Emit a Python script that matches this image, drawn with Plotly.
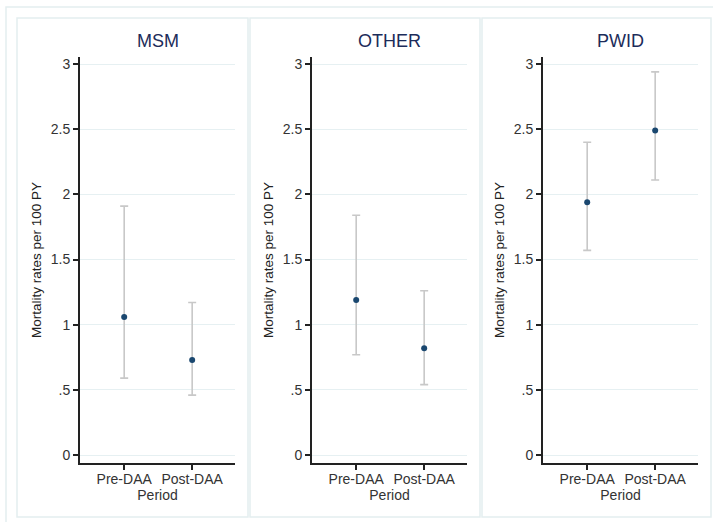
import plotly.graph_objects as go

W, H = 713, 522

groups = ["MSM", "OTHER", "PWID"]
periods = ["Pre-DAA", "Post-DAA"]
rate = {"MSM": [1.06, 0.73], "OTHER": [1.19, 0.82], "PWID": [1.94, 2.49]}
lower = {"MSM": [0.59, 0.46], "OTHER": [0.77, 0.54], "PWID": [1.57, 2.11]}
upper = {"MSM": [1.91, 1.17], "OTHER": [1.84, 1.26], "PWID": [2.40, 2.94]}
yticks = [0, 0.5, 1, 1.5, 2, 2.5, 3]
yticklabels = ["0", ".5", "1", "1.5", "2", "2.5", "3"]

# pixel layout (x-axis left/right, panel box left/right)
axis_px = [(80, 235), (312, 467), (543, 698)]
box_px = [(17, 248), (250, 480), (482, 711)]
ax_top, ax_bot = 57, 463

fig = go.Figure()
font = "Liberation Sans, Arial, sans-serif"

for i, g in enumerate(groups):
    n = "" if i == 0 else str(i + 1)
    xa, ya = "x" + n, "y" + n
    fig.add_trace(go.Scatter(
        x=periods, y=upper[g], mode="markers",
        marker=dict(size=1, color="rgba(0,0,0,0)"),
        error_y=dict(type="data", symmetric=False,
                     array=[0] * 2, arrayminus=[u - l for u, l in zip(upper[g], lower[g])],
                     color="#c8c8c8", thickness=1.6, width=4),
        xaxis=xa, yaxis=ya, showlegend=False, hoverinfo="skip"))
    fig.add_trace(go.Scatter(
        x=periods, y=rate[g], mode="markers",
        marker=dict(size=6, color="#1a476f"),
        xaxis=xa, yaxis=ya, showlegend=False))
    x0, x1 = axis_px[i]
    fig.layout["xaxis" + n] = dict(
        domain=[x0 / W, x1 / W], anchor=ya, range=[-0.65, 1.63],
        showline=True, linecolor="#222", linewidth=2, ticks="outside",
        ticklen=5, tickcolor="#222", tickwidth=1.5, showgrid=False,
        ticklabelstandoff=-3,
        tickfont=dict(family=font, size=14, color="#333"),
        title=dict(text="Period", font=dict(family=font, size=14, color="#333"), standoff=0),
        fixedrange=True)
    fig.layout["yaxis" + n] = dict(
        domain=[1 - ax_bot / H, 1 - ax_top / H], anchor=xa, range=[-0.061, 3.054],
        tickvals=yticks, ticktext=yticklabels,
        showline=True, linecolor="#222", linewidth=2, ticks="outside",
        ticklen=5, tickcolor="#222", tickwidth=1.5,
        showgrid=True, gridcolor="#e6f0f2", gridwidth=1, zeroline=False,
        tickfont=dict(family=font, size=14, color="#333"),
        title=dict(text="Mortality rates per 100 PY", font=dict(family=font, size=13.5, color="#222"), standoff=6),
        fixedrange=True)
    b0, b1 = box_px[i]
    fig.add_shape(type="rect", xref="paper", yref="paper",
                  x0=b0 / W, x1=b1 / W, y0=1 - 517 / H, y1=1 - 18 / H,
                  line=dict(color="#e4eef0", width=1.5), layer="below")
    fig.add_annotation(text=g, xref="paper", yref="paper",
                       x=(x0 + x1) / 2 / W, y=1 - 41 / H, showarrow=False,
                       xanchor="center", yanchor="middle",
                       font=dict(family=font, size=18, color="#1c2c5a"))

fig.add_shape(type="rect", xref="paper", yref="paper",
              x0=6 / W, x1=1.02, y0=-0.02, y1=1 - 7 / H,
              line=dict(color="#e4eef0", width=1.5), layer="below")

fig.update_layout(width=W, height=H, margin=dict(l=0, r=0, t=0, b=0),
                  paper_bgcolor="white", plot_bgcolor="white")
fig.write_html("out.html", config={"displayModeBar": False},
               post_script="document.body.style.margin='0';document.body.style.overflow='hidden';")
